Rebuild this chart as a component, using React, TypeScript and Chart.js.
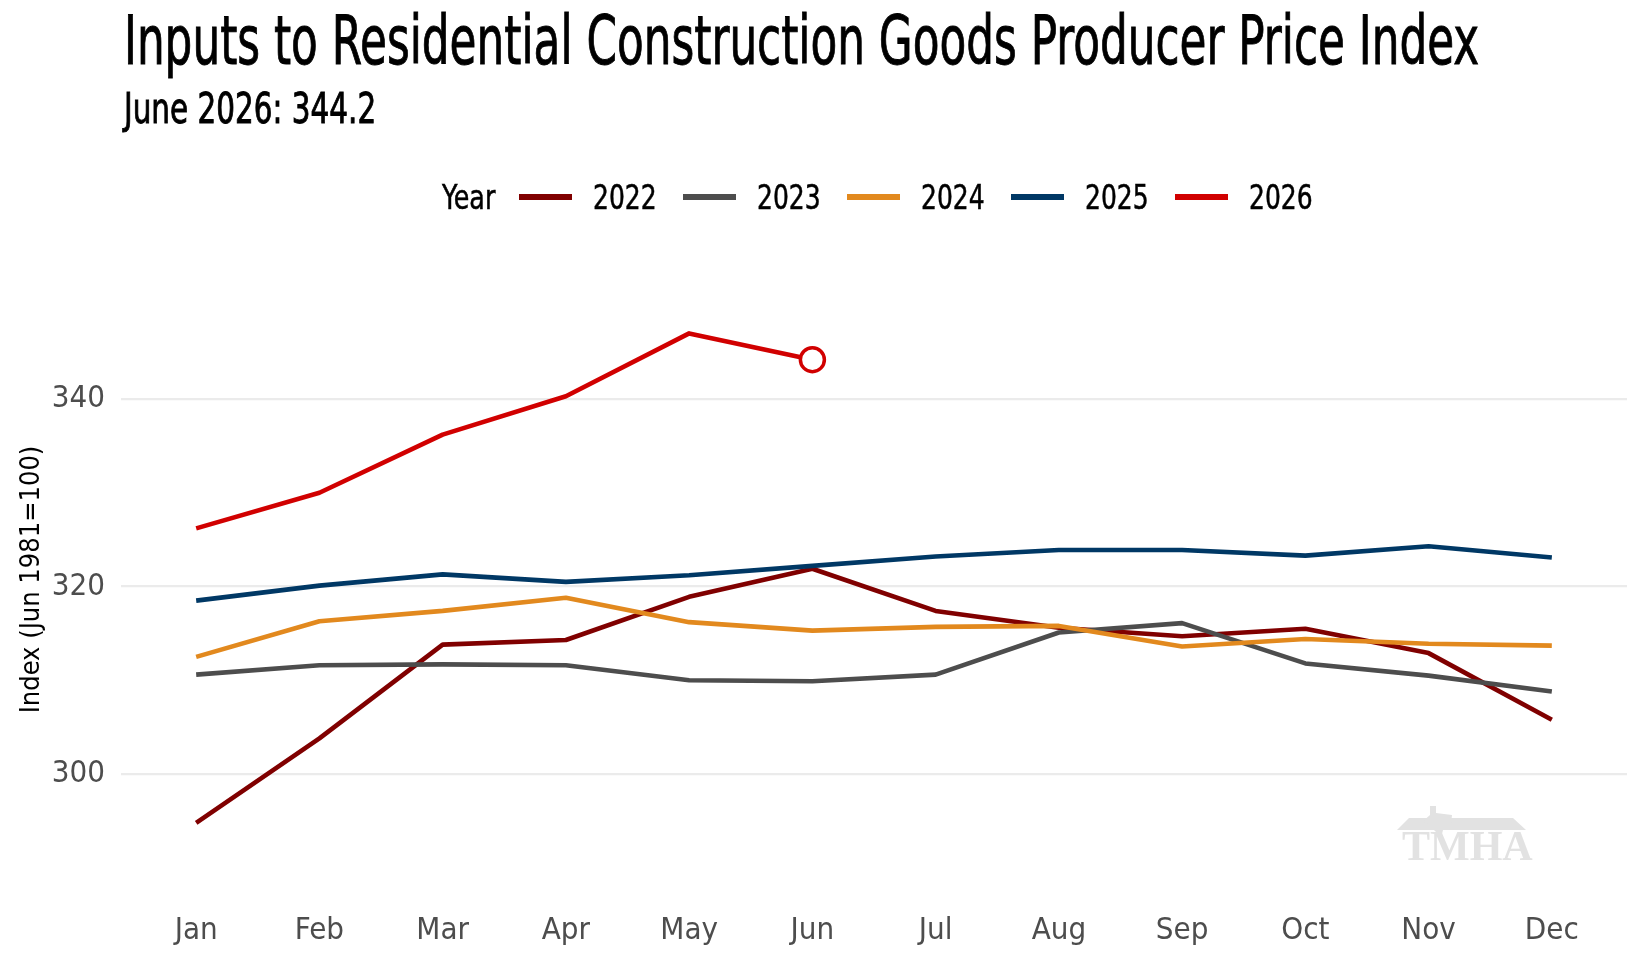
import { useEffect, useLayoutEffect, useRef } from "react";
import { Chart, registerables } from "chart.js";

Chart.register(...registerables);

const months = ["Jan", "Feb", "Mar", "Apr", "May", "Jun", "Jul", "Aug", "Sep", "Oct", "Nov", "Dec"];
const years = ["2022", "2023", "2024", "2025", "2026"];
const colors = ["#800000", "#4d4d4d", "#e2891e", "#003865", "#d10000"];
const y2022 = [294.8, 303.8, 313.8, 314.3, 318.9, 321.9, 317.4, 315.6, 314.7, 315.5, 312.9, 305.8];
const y2023 = [310.6, 311.6, 311.7, 311.6, 310.0, 309.9, 310.6, 315.1, 316.1, 311.8, 310.5, 308.8];
const y2024 = [312.5, 316.3, 317.4, 318.8, 316.2, 315.3, 315.7, 315.8, 313.6, 314.4, 313.9, 313.7];
const y2025 = [318.5, 320.1, 321.3, 320.5, 321.2, 322.2, 323.2, 323.9, 323.9, 323.3, 324.3, 323.1];
const y2026 = [326.2, 330.0, 336.2, 340.3, 347.0, 344.2];
const series = [y2022, y2023, y2024, y2025, y2026];
const yTicks = [300, 320, 340];

const FONT = '"Liberation Sans Narrow", "DejaVu Sans Condensed", "Arial Narrow", sans-serif';

// squeeze a line of text to a given width (the original uses a condensed face)
function FitText(props: { text: string; width: number; style: any }) {
  const ref = useRef<HTMLSpanElement>(null);
  useLayoutEffect(() => {
    const el = ref.current;
    if (!el) return;
    el.style.transform = "none";
    const w = el.offsetWidth;
    if (w > 0) el.style.transform = `scaleX(${props.width / w})`;
  }, [props.text, props.width]);
  return (
    <span
      ref={ref}
      style={{ position: "absolute", whiteSpace: "nowrap", transformOrigin: "left top", fontFamily: FONT, lineHeight: 1, ...props.style }}
    >
      {props.text}
    </span>
  );
}

const watermark = {
  id: "watermark",
  beforeDatasetsDraw(chart: any) {
    const ctx = chart.ctx;
    ctx.save();
    ctx.fillStyle = "#e2e2e2";
    // roof
    ctx.beginPath();
    ctx.moveTo(1397, 830);
    ctx.lineTo(1409, 818);
    ctx.lineTo(1513, 818);
    ctx.lineTo(1526, 830);
    ctx.closePath();
    ctx.fill();
    // little Texas
    ctx.beginPath();
    ctx.moveTo(1430, 806);
    ctx.lineTo(1436, 806);
    ctx.lineTo(1436, 813);
    ctx.lineTo(1452, 815);
    ctx.lineTo(1451, 824);
    ctx.lineTo(1443, 830);
    ctx.lineTo(1441, 838);
    ctx.lineTo(1436, 832);
    ctx.lineTo(1428, 824);
    ctx.lineTo(1422, 822);
    ctx.lineTo(1430, 815);
    ctx.closePath();
    ctx.fill();
    ctx.font = 'bold 42px "Liberation Serif", "DejaVu Serif", serif';
    ctx.textBaseline = "alphabetic";
    ctx.fillText("TMHA", 1402, 860);
    ctx.restore();
  },
};

export default function App() {
  const canvasRef = useRef<HTMLCanvasElement>(null);

  useEffect(() => {
    document.body.style.margin = "0";
    if (!canvasRef.current) return;
    const ctx = canvasRef.current.getContext("2d");
    if (!ctx) return;

    const chart = new Chart(ctx, {
      type: "line",
      data: {
        datasets: years.map((yr, i) => ({
          label: yr,
          data: series[i].map((v, j) => ({ x: j, y: v })),
          borderColor: colors[i],
          borderWidth: 4.6,
          borderJoinStyle: "round",
          tension: 0,
          order: years.length - 1 - i,
          pointRadius: yr === "2026" ? series[i].map((_, j) => (j === series[i].length - 1 ? 12 : 0)) : 0,
          pointBorderWidth: 3.5,
          pointBackgroundColor: "#ffffff",
          pointBorderColor: colors[i],
        })),
      },
      options: {
        animation: false,
        responsive: false,
        maintainAspectRatio: false,
        layout: { padding: { top: 309, right: 16, left: 0, bottom: 0 } },
        plugins: { legend: { display: false }, tooltip: { enabled: false } },
        scales: {
          x: {
            type: "linear",
            min: -0.61,
            max: 11.61,
            grid: { display: false, drawTicks: false },
            border: { display: false },
            afterBuildTicks: (s: any) => {
              s.ticks = months.map((_, i) => ({ value: i }));
            },
            afterFit: (s: any) => {
              s.height = 110;
            },
            ticks: {
              autoSkip: false,
              maxRotation: 0,
              padding: 62,
              color: "#4d4d4d",
              font: { family: FONT, size: 31 },
              callback: (v: any) => months[v],
            },
          },
          y: {
            min: 291.9,
            max: 349.6,
            afterBuildTicks: (s: any) => {
              s.ticks = yTicks.map((v) => ({ value: v }));
            },
            afterFit: (s: any) => {
              s.width = 121;
            },
            grid: { color: "#ebebeb", lineWidth: 2.2, drawTicks: false },
            border: { display: false },
            ticks: { padding: 16, color: "#4d4d4d", font: { family: FONT, size: 31 } },
            title: {
              display: true,
              text: "Index (Jun 1981=100)",
              color: "#000000",
              font: { family: FONT, size: 27 },
              padding: { top: 16, bottom: 0 },
            },
          },
        },
      },
      plugins: [watermark],
    });

    return () => chart.destroy();
  }, []);

  const stroke = { WebkitTextStroke: "0.9px #000" };

  return (
    <div style={{ position: "relative", width: 1643, height: 960, background: "#ffffff" }}>
      <canvas ref={canvasRef} width={1643} height={960} style={{ position: "absolute", left: 0, top: 0 }} />
      <FitText
        text="Inputs to Residential Construction Goods Producer Price Index"
        width={1355}
        style={{ left: 124, top: 8, fontSize: 67, color: "#000", ...stroke }}
      />
      <FitText text="June 2026: 344.2" width={252} style={{ left: 124, top: 88, fontSize: 42.5, color: "#000", ...stroke }} />
      <FitText text="Year" width={53} style={{ left: 442, top: 181, fontSize: 33, color: "#000", WebkitTextStroke: "0.5px #000" }} />
      {years.map((yr, i) => (
        <div key={yr}>
          <span
            style={{ position: "absolute", left: 519 + i * 164, top: 194, width: 53, height: 6, background: colors[i] }}
          />
          <FitText
            text={yr}
            width={64}
            style={{ left: 593 + i * 164, top: 181, fontSize: 33, color: "#000", WebkitTextStroke: "0.5px #000" }}
          />
        </div>
      ))}
    </div>
  );
}
